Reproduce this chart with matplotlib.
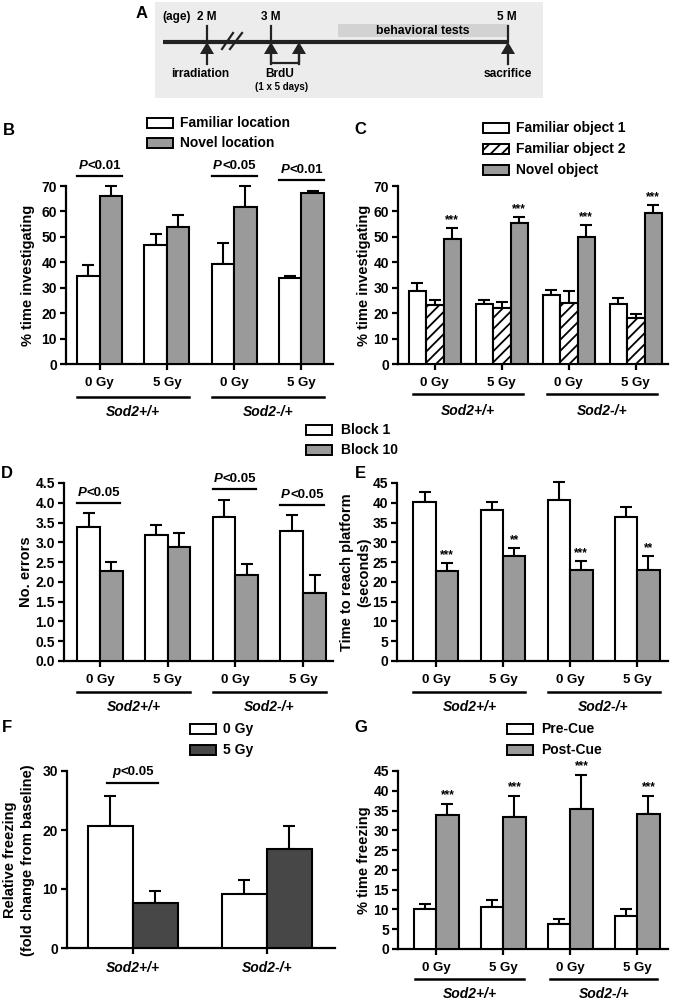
import numpy as np
import matplotlib
matplotlib.use('Agg')
import matplotlib.pyplot as plt
from matplotlib.patches import Rectangle, Polygon
from matplotlib.transforms import offset_copy

plt.rcParams['font.family'] = ['Liberation Sans', 'DejaVu Sans']
plt.rcParams['font.weight'] = 'bold'
plt.rcParams['axes.labelweight'] = 'bold'
plt.rcParams['hatch.linewidth'] = 1.3

W, H = 675, 1002
GRAY = '#9a9a9a'
DARK = '#474747'

# ---- data ----
doses = ['0 Gy', '5 Gy', '0 Gy', '5 Gy']
genotypes = ['Sod2+/+', 'Sod2-/+']

# B  object location
b_labels = ['Familiar location', 'Novel location']
b_familiar = [34.7, 46.8, 39.2, 33.7]
b_familiar_err = [4.2, 4.4, 8.2, 0.9]
b_novel = [66.2, 54.0, 61.6, 67.1]
b_novel_err = [3.8, 4.5, 8.3, 1.1]
b_sig = ['<0.01', None, '<0.05', '<0.01']

# C  novel object
c_labels = ['Familiar object 1', 'Familiar object 2', 'Novel object']
c_fam1 = [28.7, 23.5, 27.0, 23.5]
c_fam1_err = [3.0, 1.5, 2.2, 2.3]
c_fam2 = [23.3, 22.1, 24.0, 18.0]
c_fam2_err = [1.9, 2.1, 4.6, 1.7]
c_novel = [49.1, 55.3, 49.8, 59.5]
c_novel_err = [4.5, 2.6, 4.9, 3.1]
c_stars = ['***', '***', '***', '***']

# D / E  water maze
de_labels = ['Block 1', 'Block 10']
d_block1 = [3.40, 3.19, 3.63, 3.29]
d_block1_err = [0.34, 0.26, 0.45, 0.39]
d_block10 = [2.27, 2.87, 2.17, 1.71]
d_block10_err = [0.24, 0.36, 0.28, 0.46]
d_sig = ['<0.05', None, '<0.05', '<0.05']

e_block1 = [40.3, 38.2, 40.8, 36.5]
e_block1_err = [2.4, 2.0, 4.4, 2.4]
e_block10 = [22.8, 26.5, 23.0, 23.1]
e_block10_err = [1.9, 2.0, 2.3, 3.5]
e_stars = ['***', '**', '***', '**']

# F  contextual freezing
f_labels = ['0 Gy', '5 Gy']
f_0gy = [20.6, 9.2]
f_0gy_err = [5.2, 2.25]
f_5gy = [7.65, 16.8]
f_5gy_err = [1.95, 3.9]
f_sig = [True, False]

# G  cued freezing
g_labels = ['Pre-Cue', 'Post-Cue']
g_pre = [10.0, 10.5, 6.3, 8.4]
g_pre_err = [1.3, 2.0, 1.3, 1.7]
g_post = [34.0, 33.4, 35.5, 34.2]
g_post_err = [2.6, 5.2, 8.5, 4.4]
g_stars = ['***', '***', '***', '***']

fig = plt.figure(figsize=(W / 100, H / 100), dpi=100)


def panel(l, t, r, b, xlim, ylim, yticks):
    ax = fig.add_axes([l / W, 1 - b / H, (r - l) / W, (b - t) / H])
    ax.set_xlim(*xlim)
    ax.set_ylim(*ylim)
    ax.set_yticks(yticks)
    for s in ['top', 'right']:
        ax.spines[s].set_visible(False)
    for s in ['left', 'bottom']:
        ax.spines[s].set_linewidth(1.6)
    ax.tick_params(width=1.6, length=4.5, labelsize=10, pad=2)
    ax.tick_params(axis='x', labelsize=9.5, pad=5)
    ax.patch.set_alpha(0)
    return ax


def bars(ax, x, vals, errs, color, w, hatch=None):
    ax.bar(x, vals, width=w, color=color, edgecolor='black', linewidth=1.5,
           hatch=hatch, zorder=3)
    ax.errorbar(x, vals, yerr=[np.zeros(len(vals)), errs], fmt='none',
                ecolor='black', elinewidth=1.5, capsize=4.3, capthick=1.5,
                zorder=2, clip_on=False)


def stars(ax, x, vals, errs, marks, off=2):
    for xi, v, e, m in zip(x, vals, errs, marks):
        ax.annotate(m, (xi, v + e), xytext=(0, off), textcoords='offset pixels',
                    ha='center', va='bottom', fontsize=8.5, annotation_clip=False)


def sigline(ax, x0, x1, y, pre, rest, off=7):
    ax.plot([x0, x1], [y, y], color='black', lw=1.6, clip_on=False)
    xc = (x0 + x1) / 2
    ax.annotate(pre, (xc, y), xytext=(-12, off), textcoords='offset pixels',
                ha='right', va='baseline', fontsize=9.5, style='italic',
                annotation_clip=False)
    ax.annotate(rest, (xc, y), xytext=(-12, off), textcoords='offset pixels',
                ha='left', va='baseline', fontsize=9.5, annotation_clip=False)


def genotype_rows(ax, line_dy, text_dy, spans):
    tl = offset_copy(ax.get_xaxis_transform(), fig=fig, y=-line_dy, units='dots')
    tt = offset_copy(ax.get_xaxis_transform(), fig=fig, y=-text_dy, units='dots')
    for (a, b), g in zip(spans, genotypes):
        ax.plot([a, b], [0, 0], color='black', lw=1.8, transform=tl, clip_on=False)
        ax.text((a + b) / 2, 0, g, transform=tt, ha='center', va='center',
                fontsize=10, style='italic')


# overlay in pixel coordinates for panel letters, legends, labels and scheme
ov = fig.add_axes([0, 0, 1, 1], zorder=10)
ov.set_xlim(0, W)
ov.set_ylim(H, 0)
ov.axis('off')


def legend(x, y0, dy, tx, labels, colors, hatches=None):
    for i, (lab, c) in enumerate(zip(labels, colors)):
        h = hatches[i] if hatches else None
        y = y0 + i * dy
        ov.add_patch(Rectangle((x, y), 26, 10, fc=c, ec='black', lw=1.4, hatch=h))
        ov.text(tx, y + 5, lab, ha='left', va='center', fontsize=10)


def ylab(x, y, s, size=10.5):
    ov.text(x, y, s, rotation=90, ha='center', va='center', fontsize=size,
            multialignment='center', linespacing=1.3)


for letter, (lx, ly) in zip('ABCDEFG', [(142, 13), (9, 130), (360, 129), (7, 473),
                                         (360, 474), (7, 728), (361, 728)]):
    ov.text(lx, ly, letter, ha='center', va='center', fontsize=12)

# ---- panel A: timeline scheme ----
ov.add_patch(Rectangle((155, 2), 388, 96, fc='#ececec', ec='none'))
ov.add_patch(Rectangle((338, 24), 170, 13, fc='#d2d2d2', ec='none'))
ov.text(423, 31, 'behavioral tests', ha='center', va='center', fontsize=8.8)
ov.plot([163, 508], [42, 42], color='#222222', lw=3, solid_capstyle='butt')
for tx in [207, 271, 508]:
    ov.plot([tx, tx], [26, 42], color='#222222', lw=1.6)
for ax_x in [207, 271, 299, 508]:
    ov.add_patch(Polygon([[ax_x, 42], [ax_x - 7, 54], [ax_x + 7, 54]], closed=True,
                         fc='#222222', ec='none'))
    ov.plot([ax_x, ax_x], [52, 64], color='#222222', lw=1.6)
ov.plot([271, 271, 299, 299], [52, 63, 63, 52], color='#222222', lw=1.6)
ov.add_patch(Polygon([[223, 48], [233, 34], [241, 34], [231, 48]], closed=True,
                     fc='#ececec', ec='none'))
ov.plot([222, 233], [49, 33], color='#222222', lw=1.6)
ov.plot([230, 242], [49, 33], color='#222222', lw=1.6)
ov.text(162, 17, '(age)', ha='left', va='center', fontsize=8.5)
for s, xx in [('2 M', 207), ('3 M', 271), ('5 M', 507)]:
    ov.text(xx, 17, s, ha='center', va='center', fontsize=8.5)
ov.text(200, 74, 'irradiation', ha='center', va='center', fontsize=8.6)
ov.text(280, 74, 'BrdU', ha='center', va='center', fontsize=8.6)
ov.text(282, 87, '(1 x 5 days)', ha='center', va='center', fontsize=7)
ov.text(508, 74, 'sacrifice', ha='center', va='center', fontsize=8.6)

x4 = np.arange(4)

# ---- panel B ----
axB = panel(66, 186, 333, 364, (-0.5, 3.47), (0, 70), range(0, 71, 10))
w = 0.335
bars(axB, x4 - w / 2, b_familiar, b_familiar_err, 'white', w)
bars(axB, x4 + w / 2, b_novel, b_novel_err, GRAY, w)
axB.set_xticks(x4, doses)
for i, s in enumerate(b_sig):
    if s:
        top = max(b_familiar[i] + b_familiar_err[i], b_novel[i] + b_novel_err[i])
        sigline(axB, i - w, i + w, top + 4, 'P', s)
genotype_rows(axB, 33, 48, [(-w, 1 + w), (2 - w, 3 + w)])
legend(147, 118, 20, 180, b_labels, ['white', GRAY])
ylab(28, 275, '% time investigating')

# ---- panel C ----
axC = panel(398, 186, 668, 364, (-0.55, 3.48), (0, 70), range(0, 71, 10))
wc = 0.26
bars(axC, x4 - wc, c_fam1, c_fam1_err, 'white', wc)
bars(axC, x4, c_fam2, c_fam2_err, 'white', wc, hatch='///')
bars(axC, x4 + wc, c_novel, c_novel_err, GRAY, wc)
stars(axC, x4 + wc, c_novel, c_novel_err, c_stars)
axC.set_xticks(x4, doses)
genotype_rows(axC, 30, 47, [(-0.33, 1.31), (2 - 0.33, 3.31)])
legend(483, 123, 21, 516, c_labels, ['white', 'white', GRAY], [None, '///', None])
ylab(364, 275, '% time investigating')

# ---- panel D ----
axD = panel(64, 483, 333, 661, (-0.53, 3.44), (0, 4.5), np.arange(0, 4.51, 0.5))
axD.yaxis.set_major_formatter(matplotlib.ticker.FormatStrFormatter('%.1f'))
bars(axD, x4 - w / 2, d_block1, d_block1_err, 'white', w)
bars(axD, x4 + w / 2, d_block10, d_block10_err, GRAY, w)
axD.set_xticks(x4, doses)
for i, s in enumerate(d_sig):
    if s:
        top = max(d_block1[i] + d_block1_err[i], d_block10[i] + d_block10_err[i])
        sigline(axD, i - w, i + 0.9 * w, top + 0.26, 'P', s)
genotype_rows(axD, 31, 46, [(-w, 1 + w), (2 - w, 3 + w)])
legend(306, 425, 20, 341, de_labels, ['white', GRAY])
ylab(26, 572, 'No. errors')

# ---- panel E ----
axE = panel(397, 483, 668, 661, (-0.58, 3.46), (0, 45), range(0, 46, 5))
bars(axE, x4 - w / 2, e_block1, e_block1_err, 'white', w)
bars(axE, x4 + w / 2, e_block10, e_block10_err, GRAY, w)
stars(axE, x4 + w / 2, e_block10, e_block10_err, e_stars)
axE.set_xticks(x4, doses)
genotype_rows(axE, 31, 46, [(-w, 1 + w), (2 - w, 3 + w)])
ylab(356, 572, 'Time to reach platform\n(seconds)')

# ---- panel F ----
x2 = np.arange(2)
axF = panel(67, 771, 335, 948, (-0.49, 1.51), (0, 30), range(0, 31, 10))
bars(axF, x2 - w / 2, f_0gy, f_0gy_err, 'white', w)
bars(axF, x2 + w / 2, f_5gy, f_5gy_err, DARK, w)
axF.set_xticks(x2, genotypes, style='italic', fontsize=10)
for i, s in enumerate(f_sig):
    if s:
        top = max(f_0gy[i] + f_0gy_err[i], f_5gy[i] + f_5gy_err[i])
        sigline(axF, i - 0.19, i + 0.19, top + 2.2, 'p', '<0.05', off=8)
legend(190, 724, 21, 223, f_labels, ['white', DARK])
ylab(19, 860, 'Relative freezing\n(fold change from baseline)')

# ---- panel G ----
axG = panel(398, 771, 668, 949, (-0.57, 3.46), (0, 45), range(0, 46, 5))
bars(axG, x4 - w / 2, g_pre, g_pre_err, 'white', w)
bars(axG, x4 + w / 2, g_post, g_post_err, GRAY, w)
stars(axG, x4 + w / 2, g_post, g_post_err, g_stars, off=3)
axG.set_xticks(x4, doses)
genotype_rows(axG, 30, 45, [(-0.31, 1.31), (2 - 0.3, 3.3)])
legend(507, 724, 21, 541, g_labels, ['white', GRAY])
ylab(364, 860, '% time freezing')

fig.savefig('out.png', dpi=100)
